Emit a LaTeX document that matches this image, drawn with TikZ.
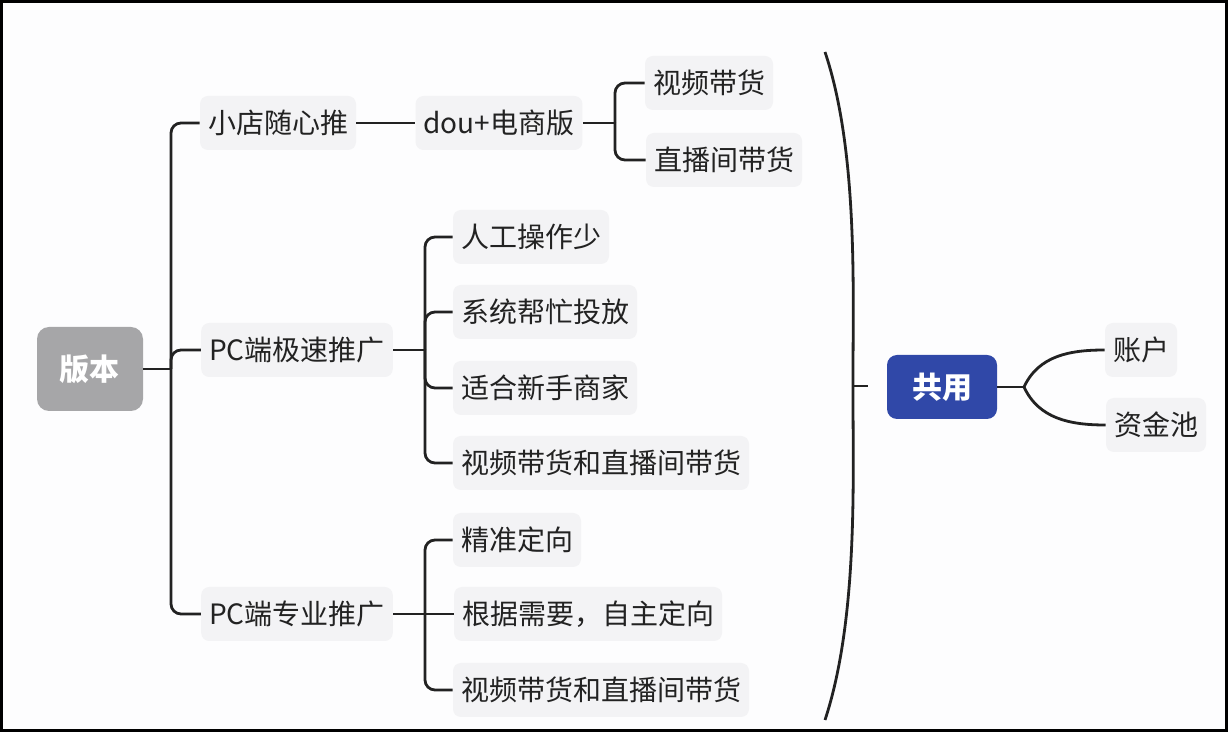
\documentclass[tikz,border=0pt]{standalone}
\usepackage{fontspec}
\setmainfont{Noto Sans CJK SC}
\usepackage{tikz}
\definecolor{pagebg}{HTML}{FDFDFE}
\definecolor{itembg}{HTML}{F3F3F5}
\definecolor{rootgray}{HTML}{A6A6A8}
\definecolor{shareblue}{HTML}{3048A8}
\definecolor{inkdark}{HTML}{222222}
\tikzset{
  item/.style={fill=itembg, rounded corners=4pt, minimum height=27pt, inner xsep=4pt, text=inkdark, font=\fontsize{14pt}{16pt}\selectfont},
  topic/.style={rounded corners=6pt, text=white, minimum width=53pt, minimum height=42pt, font=\fontsize{15pt}{17pt}\selectfont\bfseries},
  link/.style={line width=1.4pt, inkdark, rounded corners=5pt}
}

\begin{document}
\begin{tikzpicture}[x=0.5pt, y=-0.5pt]
\useasboundingbox (0,0) rectangle (1228,732);
\fill[pagebg] (0,0) rectangle (1228,732);
\draw[line width=1.5pt] (1.5,1.5) rectangle (1226.5,730.5);

% Root
\node[topic, fill=rootgray] (ver) at (90,369) {版本};

% Level 1: versions
\node[item] (xd) at (278,123) {小店随心推};
\node[item] (pcjs) at (297,350) {PC端极速推广};
\node[item] (pczy) at (297,614) {PC端专业推广};

% Level 2: small shop
\node[item] (dou) at (499,123) {dou+电商版};
\node[item] (sp) at (709,83) {视频带货};
\node[item] (zb) at (724,160) {直播间带货};

% Level 2: PC fast
\node[item] (rg) at (531,237) {人工操作少};
\node[item] (xt) at (545,312) {系统帮忙投放};
\node[item] (sh) at (545,388) {适合新手商家};
\node[item] (hd1) at (601,463) {视频带货和直播间带货};

% Level 2: PC pro
\node[item] (jz) at (517,540) {精准定向};
\node[item] (gj) at (588,614) {根据需要，自主定向};
\node[item] (hd2) at (601,690) {视频带货和直播间带货};

% Shared part
\node[topic, fill=shareblue, minimum width=55pt, minimum height=32pt, rounded corners=5pt] (gy) at (942,387) {共用};
\node[item] (zh) at (1141,350) {账户};
\node[item] (zj) at (1156,425) {资金池};

% Junctions
\coordinate (jroot) at (171,369);
\coordinate (jdou) at (615,123);
\coordinate (jjs) at (425,350);
\coordinate (jzy) at (425,614);
\coordinate (btop) at (825,52);
\coordinate (bmid) at (853,386);
\coordinate (bbot) at (825,720);
\coordinate (btip) at (868,386);
\coordinate (jgy) at (1024,387);

% Lines (root to level 1)
\draw[link] (ver.east) -- (jroot);
\draw[link] (jroot) |- (xd.west);
\draw[link] (jroot) |- (pcjs.west);
\draw[link] (jroot) |- (pczy.west);

% Lines (level 1 to level 2)
\draw[link] (xd.east) -- (dou.west);
\draw[link] (dou.east) -- (jdou);
\draw[link] (jdou) |- (sp.west);
\draw[link] (jdou) |- (zb.west);

\draw[link] (pcjs.east) -- (jjs);
\draw[link] (jjs) |- (rg.west);
\draw[link] (jjs) |- (xt.west);
\draw[link] (jjs) |- (sh.west);
\draw[link] (jjs) |- (hd1.west);

\draw[link] (pczy.east) -- (jzy);
\draw[link] (jzy) |- (jz.west);
\draw[link] (jzy) -- (gj.west);
\draw[link] (jzy) |- (hd2.west);

% Big bracket and shared part
\draw[link] (btop) .. controls (858,150) and (853,290) .. (bmid) .. controls (853,480) and (858,620) .. (bbot);
\draw[link] (bmid) -- (btip);
\draw[link] (gy.east) -- (jgy);
\draw[link] (jgy) to[out=65, in=180] (zh.west);
\draw[link] (jgy) to[out=-65, in=180] (zj.west);
\end{tikzpicture}
\end{document}
